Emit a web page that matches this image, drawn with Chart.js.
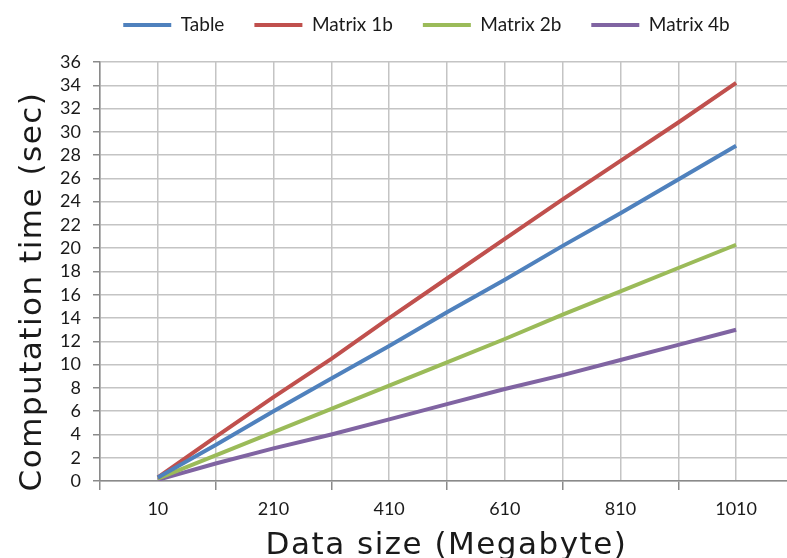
<!DOCTYPE html>
<html>
<head>
    <title>Computation time vs data size</title>
    <style>
        body { margin: 0; background: #ffffff; }
        #wrap { width: 787px; height: 558px; position: relative; }
    </style>
</head>
<body>
    <div id="wrap"><canvas id="chart"></canvas></div>
    <script src="https://cdn.jsdelivr.net/npm/chart.js"></script>
    <script>
        // data (seconds at each data size in MB)
        var sizes = [10, 110, 210, 310, 410, 510, 610, 710, 810, 910, 1010];
        var table = [0.3, 3.1, 6.0, 8.8, 11.6, 14.5, 17.3, 20.2, 23.0, 25.9, 28.8];
        var matrix1b = [0.3, 3.8, 7.2, 10.5, 14.0, 17.4, 20.8, 24.2, 27.5, 30.8, 34.2];
        var matrix2b = [0.2, 2.2, 4.2, 6.2, 8.2, 10.2, 12.2, 14.3, 16.3, 18.3, 20.3];
        var matrix4b = [0.1, 1.5, 2.8, 4.0, 5.3, 6.6, 7.9, 9.1, 10.4, 11.7, 13.0];
        var xGridTicks = [-90, 10, 110, 210, 310, 410, 510, 610, 710, 810, 910, 1010];
        var xLabelTicks = [10, 210, 410, 610, 810, 1010];

        var LEGEND_PAD = 30;
        var LEGEND_FONT = 19;

        function points(values) {
            return values.map((v, i) => ({ x: sizes[i], y: v }));
        }

        function series(label, values, color) {
            return {
                label: label,
                data: points(values),
                borderColor: color,
                backgroundColor: color,
                borderWidth: 4,
                pointRadius: 0,
                tension: 0
            };
        }

        // legend: fixed box height, row nudged to where the original sits
        // axis titles: drawn with wider letter spacing like the original
        const tweaks = {
            id: 'tweaks',
            afterInit(chart) {
                let legend = chart.legend;
                let fit = legend.fit;
                legend.fit = function () {
                    fit.call(this);
                    this.height = 62;
                };
                let draw = legend.draw;
                legend.draw = function () {
                    let ctx = this.ctx;
                    ctx.save();
                    ctx.translate(33, 25 - (LEGEND_PAD + LEGEND_FONT / 2));
                    draw.call(this);
                    ctx.restore();
                };
            },
            afterLayout(chart) {
                Object.values(chart.scales).forEach(scale => {
                    if (scale._spaced) return;
                    scale._spaced = true;
                    let drawTitle = scale.drawTitle;
                    scale.drawTitle = function () {
                        let ctx = this.ctx;
                        ctx.save();
                        ctx.letterSpacing = '1.5px';
                        if (this.axis === 'y') ctx.translate(0, 20);
                        else ctx.translate(3, 3);
                        drawTitle.call(this);
                        ctx.letterSpacing = '0px';
                        ctx.restore();
                    };
                });
            }
        };

        Chart.defaults.font.family = 'Lato, "Open Sans", sans-serif';

        new Chart(document.getElementById('chart'), {
            type: 'line',
            data: {
                datasets: [
                    series('Table', table, '#4F81BD'),
                    series('Matrix 1b', matrix1b, '#C0504D'),
                    series('Matrix 2b', matrix2b, '#9BBB59'),
                    series('Matrix 4b', matrix4b, '#8064A2')
                ]
            },
            options: {
                responsive: true,
                maintainAspectRatio: false,
                devicePixelRatio: 1,
                animation: false,
                layout: { padding: 0 },
                plugins: {
                    tooltip: { enabled: false },
                    legend: {
                        position: 'top',
                        labels: {
                            usePointStyle: true,
                            pointStyle: 'line',
                            pointStyleWidth: 48,
                            padding: LEGEND_PAD,
                            color: '#1a1a1a',
                            font: { size: LEGEND_FONT }
                        }
                    }
                },
                scales: {
                    x: {
                        type: 'linear',
                        min: -90,
                        max: 1098,
                        afterBuildTicks: (scale) => {
                            scale.ticks = xGridTicks.map(v => ({ value: v }));
                        },
                        afterFit: (scale) => { scale.height = 77; },
                        grid: {
                            color: '#c4c4c4',
                            lineWidth: 1.5,
                            tickLength: 9,
                            tickColor: (ctx) => (ctx.tick && xLabelTicks.includes(ctx.tick.value)) ? 'rgba(0,0,0,0)' : '#8a8a8a'
                        },
                        border: { color: '#8a8a8a', width: 1.5 },
                        ticks: {
                            autoSkip: false,
                            maxRotation: 0,
                            padding: 8,
                            color: '#1a1a1a',
                            font: { size: 18 },
                            callback: (v) => xLabelTicks.includes(v) ? String(v) : ''
                        },
                        title: {
                            display: true,
                            text: 'Data size (Megabyte)',
                            color: '#1a1a1a',
                            font: { family: '"DejaVu Sans", sans-serif', size: 31, lineHeight: 1 },
                            padding: { top: 0, bottom: 0 }
                        }
                    },
                    y: {
                        min: 0,
                        max: 36,
                        afterFit: (scale) => { scale.width = 100; },
                        grid: {
                            color: '#c4c4c4',
                            lineWidth: 1.5,
                            tickLength: 7,
                            tickColor: '#8a8a8a'
                        },
                        border: { color: '#8a8a8a', width: 1.5 },
                        ticks: {
                            stepSize: 2,
                            autoSkip: false,
                            padding: 12,
                            color: '#1a1a1a',
                            font: { size: 18, lineHeight: 1 }
                        },
                        title: {
                            display: true,
                            text: 'Computation time (sec)',
                            color: '#1a1a1a',
                            font: { family: '"DejaVu Sans", sans-serif', size: 31, lineHeight: 1 },
                            padding: { top: 17, bottom: 0 }
                        }
                    }
                }
            },
            plugins: [tweaks]
        });
    </script>
</body>
</html>
